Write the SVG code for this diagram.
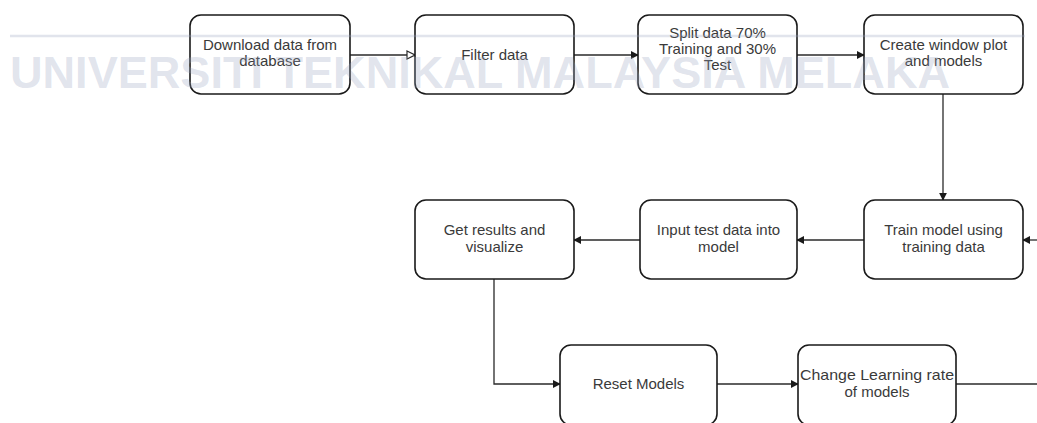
<svg xmlns="http://www.w3.org/2000/svg" width="1037" height="423" viewBox="0 0 1037 423">
<defs>
<style>
.box{fill:#fff;stroke:#1a1a1a;stroke-width:1.6}
.lbl{font-family:"Liberation Sans",Arial,sans-serif;font-size:15px;fill:#3a3a3a;text-anchor:middle}
.edge{fill:none;stroke:#2a2a2a;stroke-width:1.3}
.wm{font-family:"Liberation Sans",Arial,sans-serif;font-weight:bold;font-size:45px;fill:#9aa6c0;fill-opacity:0.3}
</style>
<marker id="arr" viewBox="0 0 10 10" refX="9" refY="5" markerWidth="8" markerHeight="8" markerUnits="userSpaceOnUse" orient="auto">
<path d="M0,0 L10,5 L0,10 Z" fill="#1a1a1a"/>
</marker>
<marker id="open" viewBox="0 0 10 10" refX="9" refY="5" markerWidth="10" markerHeight="10" markerUnits="userSpaceOnUse" orient="auto">
<path d="M1,1 L9,5 L1,9 Z" fill="#fff" stroke="#2a2a2a" stroke-width="1.2"/>
</marker>
</defs>
<rect width="1037" height="423" fill="#fff"/>

<g id="connectors">
<path class="edge" d="M350,55 H415" marker-end="url(#open)"/>
<path class="edge" d="M574,55 H638" marker-end="url(#arr)"/>
<path class="edge" d="M797,55 H864" marker-end="url(#arr)"/>
<path class="edge" d="M943,94 V200" marker-end="url(#arr)"/>
<path class="edge" d="M1037,240 H1023" marker-end="url(#arr)"/>
<path class="edge" d="M864,240 H797" marker-end="url(#arr)"/>
<path class="edge" d="M640,240 H574" marker-end="url(#arr)"/>
<path class="edge" d="M494,279 V384 H560" marker-end="url(#arr)"/>
<path class="edge" d="M717,384 H798" marker-end="url(#arr)"/>
<path class="edge" d="M956,384 H1037"/>
</g>

<g id="n1"><rect class="box" x="190" y="15" width="160" height="79" rx="11"/>
<text class="lbl" x="270" y="50">Download data from</text><text class="lbl" x="270" y="66">database</text></g>
<g id="n2"><rect class="box" x="415" y="15" width="159" height="79" rx="11"/>
<text class="lbl" x="494.5" y="60">Filter data</text></g>
<g id="n3"><rect class="box" x="638" y="15" width="159" height="79" rx="11"/>
<text class="lbl" x="717.5" y="38">Split data 70%</text><text class="lbl" x="717.5" y="54">Training and 30%</text><text class="lbl" x="717.5" y="70">Test</text></g>
<g id="n4"><rect class="box" x="864" y="15" width="159" height="79" rx="11"/>
<text class="lbl" x="943.5" y="50">Create window plot</text><text class="lbl" x="943.5" y="66">and models</text></g>

<g id="n5"><rect class="box" x="864" y="200" width="159" height="79" rx="11"/>
<text class="lbl" x="943.5" y="235">Train model using</text><text class="lbl" x="943.5" y="252">training data</text></g>
<g id="n6"><rect class="box" x="640" y="200" width="157" height="79" rx="11"/>
<text class="lbl" x="718.5" y="235">Input test data into</text><text class="lbl" x="718.5" y="252">model</text></g>
<g id="n7"><rect class="box" x="415" y="200" width="159" height="79" rx="11"/>
<text class="lbl" x="494.5" y="235">Get results and</text><text class="lbl" x="494.5" y="252">visualize</text></g>

<g id="n8"><rect class="box" x="560" y="345" width="157" height="80" rx="11"/>
<text class="lbl" x="638.5" y="389">Reset Models</text></g>
<g id="n9"><rect class="box" x="798" y="345" width="158" height="80" rx="11"/>
<text class="lbl" x="877" y="380" textLength="154" lengthAdjust="spacingAndGlyphs">Change Learning rate</text><text class="lbl" x="877" y="397">of models</text></g>

<g id="watermark">
<line x1="10" y1="36" x2="1025" y2="36" stroke="#9aa6c0" stroke-opacity="0.3" stroke-width="2.5"/>
<text class="wm" x="10" y="88" textLength="940" lengthAdjust="spacingAndGlyphs">UNIVERSITI TEKNIKAL MALAYSIA MELAKA</text>
</g>
</svg>
